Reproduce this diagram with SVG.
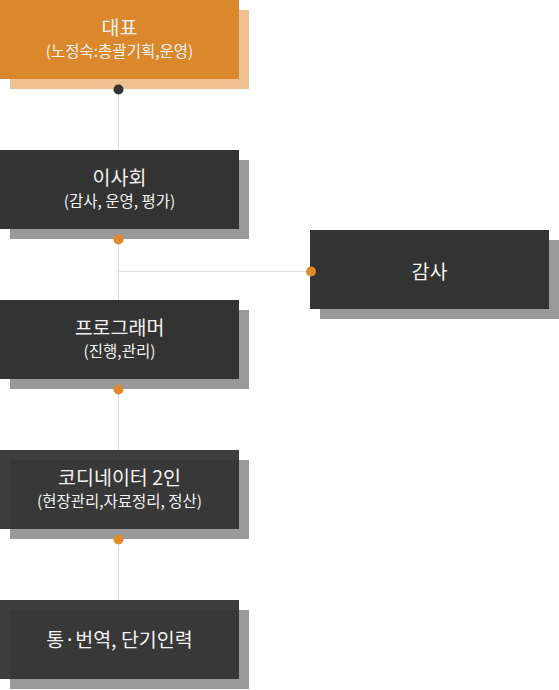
<svg xmlns="http://www.w3.org/2000/svg" width="559" height="690" viewBox="0 0 559 690">
<style>
.t{font-family:"Noto Sans CJK KR","Noto Sans",sans-serif;fill:#f2f2f2;text-anchor:middle}
.h{font-size:19.5px}
.s{font-size:15.5px}
.f{fill:#333333}
.sh{fill:#999999}
.dot{fill:#e08a2e}
</style>
<rect width="559" height="690" fill="#ffffff"/>
<g id="connectors" stroke="#dddddd" stroke-width="1" fill="none">
<line x1="118.5" y1="90" x2="118.5" y2="600"/>
<line x1="118.5" y1="271.5" x2="311" y2="271.5"/>
</g>
<g id="n1">
<rect x="10" y="10" width="239" height="79" fill="#f0c291"/>
<rect x="0" y="0" width="239" height="79" fill="#db882c"/>
<text class="t h" x="119.5" y="34.5">대표</text>
<text class="t s" x="119.5" y="57">(노정숙:총괄기획,운영)</text>
<circle cx="118.5" cy="89.5" r="5" fill="#333333"/>
</g>
<g id="n2">
<rect class="sh" x="10" y="160" width="239" height="79"/>
<rect class="f" x="0" y="150" width="239" height="79"/>
<text class="t h" x="119.5" y="184.5">이사회</text>
<text class="t s" x="119.5" y="207">(감사, 운영, 평가)</text>
<circle class="dot" cx="118.5" cy="239.5" r="5"/>
</g>
<g id="n_audit">
<rect class="sh" x="320" y="240" width="239" height="79"/>
<rect class="f" x="310" y="230" width="239" height="79"/>
<text class="t h" x="429.5" y="278.5">감사</text>
<circle class="dot" cx="311" cy="271.5" r="5"/>
</g>
<g id="n3">
<rect class="sh" x="10" y="310" width="239" height="79"/>
<rect class="f" x="0" y="300" width="239" height="79"/>
<text class="t h" x="119.5" y="334.5">프로그래머</text>
<text class="t s" x="119.5" y="357">(진행,관리)</text>
<circle class="dot" cx="118.5" cy="389.5" r="5"/>
</g>
<g id="n4">
<rect class="sh" x="10" y="460" width="239" height="79"/>
<rect class="f" x="0" y="450" width="239" height="79" fill-opacity="0.95"/>
<text class="t h" x="119.5" y="484.5">코디네이터 2인</text>
<text class="t s" x="119.5" y="507">(현장관리,자료정리, 정산)</text>
<circle class="dot" cx="118.5" cy="539.5" r="5"/>
</g>
<g id="n5">
<rect class="sh" x="10" y="610" width="239" height="79"/>
<rect class="f" x="0" y="600" width="239" height="79" fill-opacity="0.95"/>
<text class="t h" x="119.5" y="646.5">통·번역, 단기인력</text>
</g>
</svg>
